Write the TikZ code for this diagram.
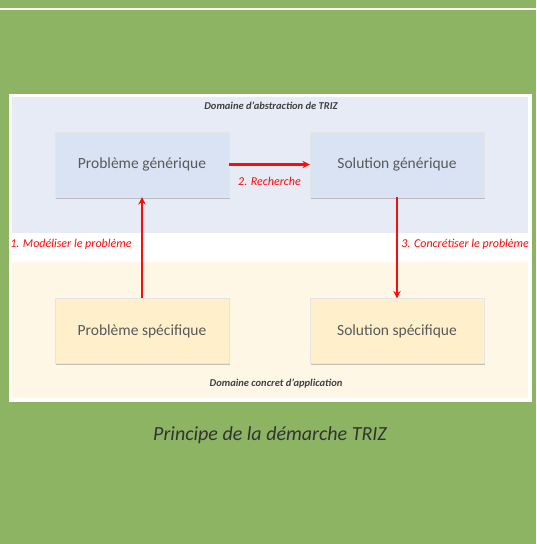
\documentclass[tikz,border=0pt]{standalone}
\usepackage{fontspec}
\setmainfont{Carlito}
\usepackage{xcolor}
\usetikzlibrary{shadows,positioning}

\definecolor{fondvert}{HTML}{8DB462}
\definecolor{zonebleue}{HTML}{E6EBF6}
\definecolor{zonejaune}{HTML}{FEF7E6}
\definecolor{blocbleu}{HTML}{DAE3F3}
\definecolor{blocjaune}{HTML}{FFF0CB}
\definecolor{textegris}{HTML}{595959}
\definecolor{rouge}{HTML}{FF0A0A}

\begin{document}
\begin{tikzpicture}[x=1pt, y=-1pt, thick, >=stealth,
    bloc/.style={draw=black!10, line width=0.4pt, minimum width=174pt, minimum height=65pt,
        text=textegris, font=\fontsize{15.5}{18}\selectfont,
        drop shadow={shadow xshift=1pt, shadow yshift=-1.5pt, opacity=0.45}},
    etape/.style={text=rouge, font=\fontsize{12}{14}\selectfont\itshape},
    fleche/.style={->, rouge, line width=2.2pt},
    domaine/.style={text=black!75, font=\fontsize{10.5}{12}\selectfont\bfseries\itshape}]

    % fond et cadre
    \fill[fondvert] (0,0) rectangle (536,544);
    \useasboundingbox (0,0) rectangle (536,544);
    \fill[white] (0,8) rectangle (536,10);
    \fill[white] (9,94) rectangle (532,402);
    \fill[zonebleue] (12,97) rectangle (528,233);
    \fill[zonejaune] (12,262) rectangle (528,398);

    \node[domaine] (abstrait) at (271,106) {Domaine d'abstraction de TRIZ};
    \node[domaine] (concret) at (276,384) {Domaine concret d'application};

    % les quatre blocs
    \node[bloc, fill=blocbleu] (pgen) at (142,164.5) {Problème générique};
    \node[bloc, fill=blocbleu] (sgen) at (397,164.5) {Solution générique};
    \node[bloc, fill=blocjaune] (pspe) at (142,331) {Problème spécifique};
    \node[bloc, fill=blocjaune] (sspe) at (397,331) {Solution spécifique};

    \draw[fleche] (pspe) -- (pgen)
        node[etape, pos=0.53, left=6pt] {1. Modéliser le problème};
    \draw[fleche] (pgen) -- (sgen)
        node[etape, midway, below=8pt] {2. Recherche};
    \draw[fleche] (sgen) -- (sspe)
        node[etape, pos=0.47, right=0pt] {3. Concrétiser le problème};

    \node[text=black!80, font=\fontsize{20}{24}\selectfont\itshape] (titre) at (270,435) {Principe de la démarche TRIZ};
\end{tikzpicture}
\end{document}
